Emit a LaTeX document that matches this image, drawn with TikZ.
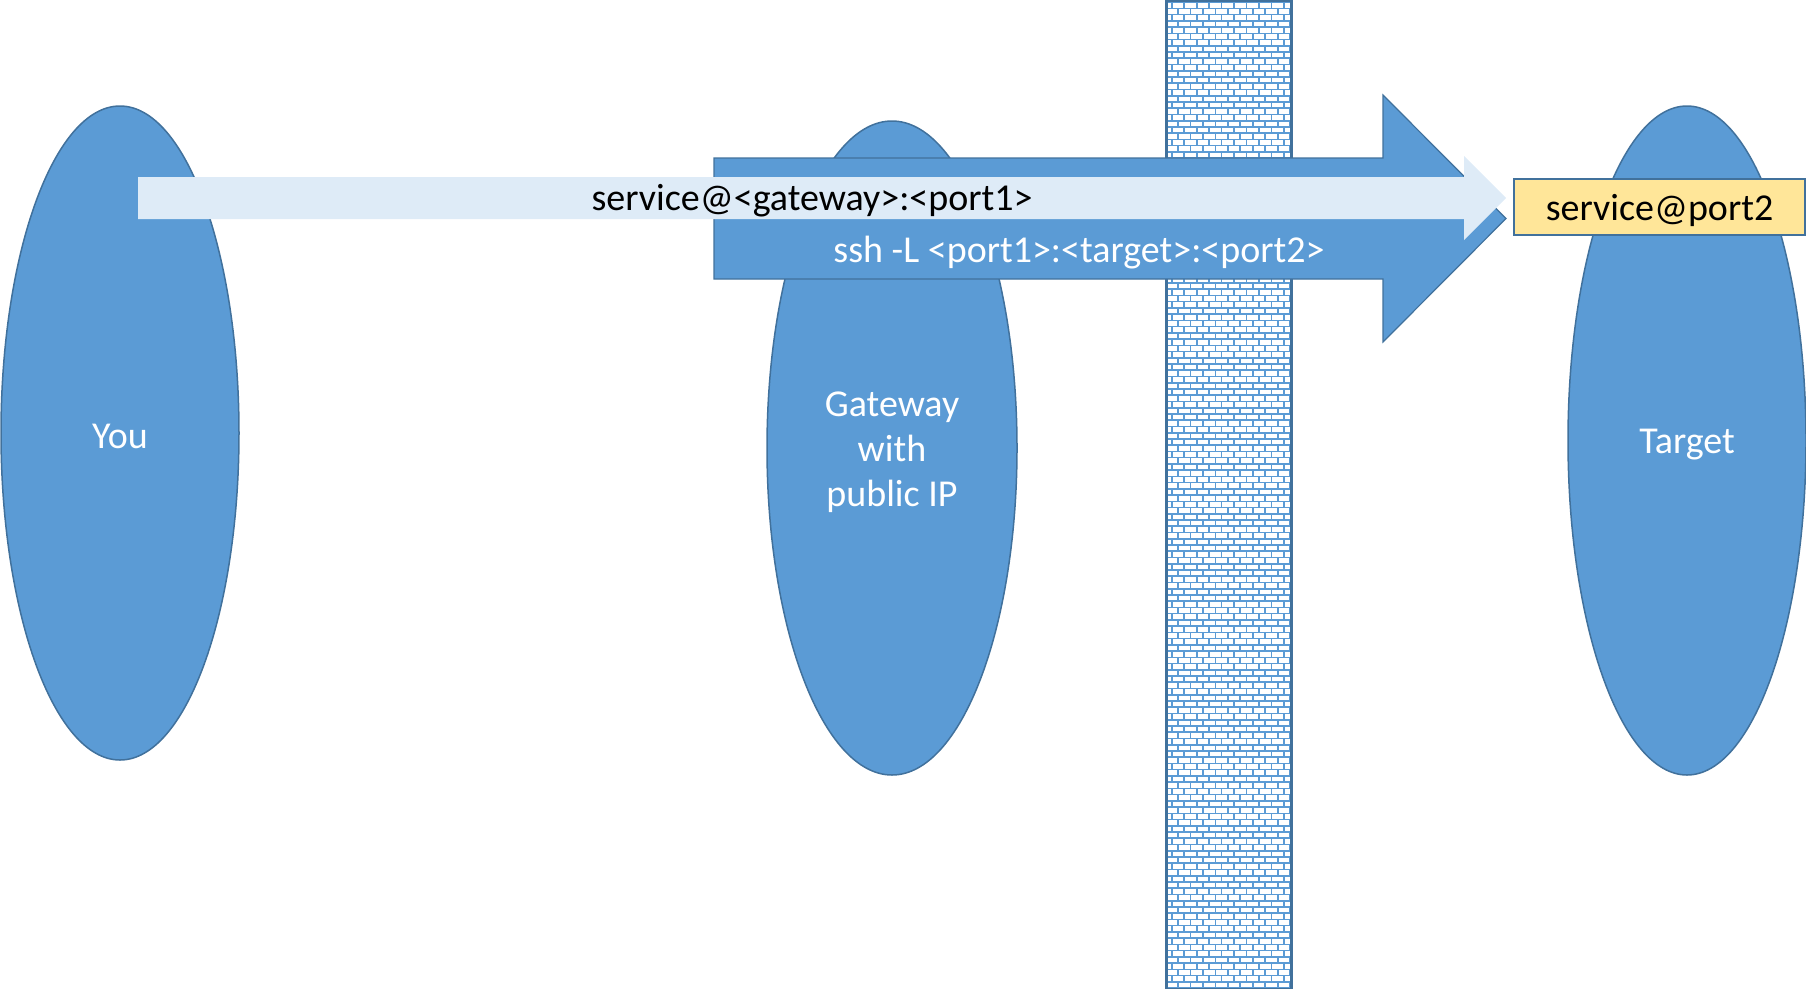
\documentclass[tikz,border=0pt]{standalone}
\usepackage{fontspec}
\setmainfont{Carlito}
\usetikzlibrary{shapes.geometric}
\definecolor{ellfill}{HTML}{5B9BD5}
\definecolor{edgeblue}{HTML}{41719C}
\definecolor{lightarrow}{HTML}{DEEBF7}
\definecolor{boxyellow}{HTML}{FFE699}
\definecolor{mortar}{HTML}{5B9BD5}
\tikzset{
  host/.style={ellipse, fill=ellfill, draw=edgeblue, line width=1.5pt, inner sep=0pt},
  lbl/.style={inner sep=0pt, align=center, font=\fontsize{38}{45}\selectfont},
  svcbox/.style={rectangle, fill=boxyellow, draw=edgeblue, line width=2pt, inner sep=0pt},
  bigarrow/.style={fill=ellfill, draw=edgeblue, line width=1.2pt, line join=miter},
  smallarrow/.style={fill=lightarrow},
  wallframe/.style={rectangle, draw=edgeblue, line width=2.5pt, inner sep=0pt}
}
\begin{document}
\begin{tikzpicture}[x=1pt,y=-1pt]
\useasboundingbox (0,0) rectangle (1806,988);
% hosts
\node[host, minimum width=238, minimum height=654] (you) at (120,433) {};
\node[host, minimum width=250, minimum height=654] (gw) at (892,448) {};
\node[host, minimum width=238, minimum height=669] (target) at (1687,440.5) {};
% firewall
\begin{scope}
\clip (1165,0) rectangle (1290,988);
\fill[mortar] (1165,0) rectangle (1290,988);
\foreach \r in {0,...,158}{
  \pgfmathsetmacro{\yy}{-3.3+6.24*\r}
  \pgfmathsetmacro{\xo}{1154+6.22*mod(\r,2)}
  \foreach \k in {0,...,10}{
    \fill[white] ({\xo+12.45*\k},\yy) rectangle ++(10.7,4.6);
  }
}
\end{scope}
\node[wallframe, minimum width=125, minimum height=989, anchor=north west] (wall) at (1165,-1) {};
% tunnel arrow
\path[bigarrow] (714,158) -- (1383,158) -- (1383,95) -- (1506,218.5) -- (1383,342) -- (1383,279) -- (714,279) -- cycle;
% service arrow
\path[smallarrow] (138,177) -- (1464,177) -- (1464,156) -- (1506,198) -- (1464,240) -- (1464,219) -- (138,219) -- cycle;
% labels
\node[lbl, text=white, yshift=-3pt] (youlbl) at (you.center) {You};
\node[lbl, text=white, yshift=-4pt] (gwlbl) at (gw.center) {Gateway\\with\\public IP};
\node[lbl, text=black, yshift=-3pt] (svclbl) at (812,198) {service@<gateway>:<port1>};
\node[lbl, text=white, yshift=-3pt] (sshlbl) at (1079,250) {ssh -L <port1>:<target>:<port2>};
\node[svcbox, minimum width=291, minimum height=56] (svc) at (1659.5,207) {};
\node[lbl, text=black, yshift=-3pt] (svctxt) at (svc.center) {service@port2};
\node[lbl, text=white, yshift=-4pt] (targetlbl) at (target.center) {Target};
\end{tikzpicture}
\end{document}
